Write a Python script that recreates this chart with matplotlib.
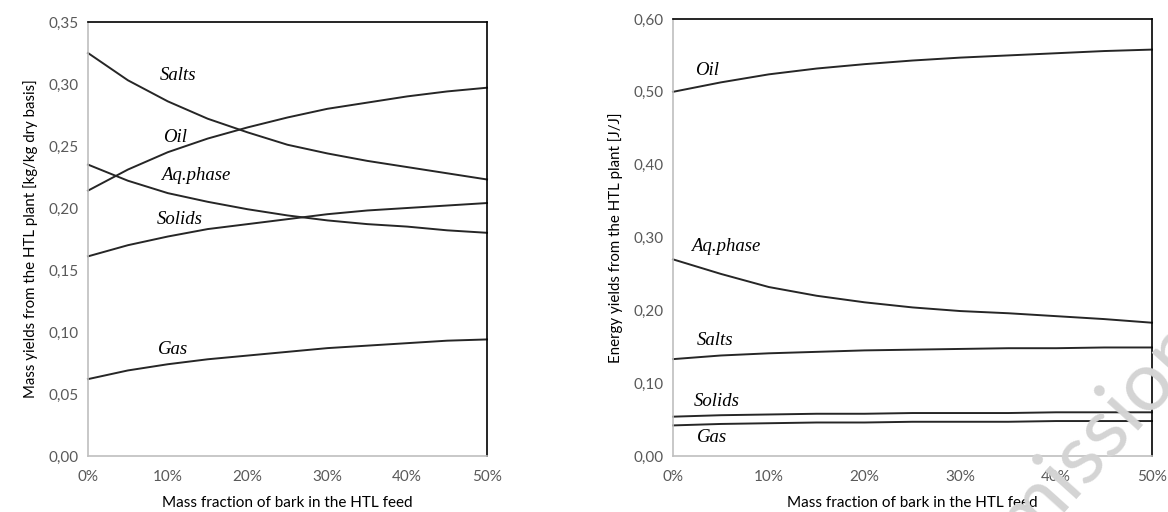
import matplotlib
matplotlib.use("Agg")
import matplotlib.pyplot as plt
from matplotlib.ticker import FuncFormatter

# Share of bark in the HTL feed (%)
bark_pct = [0, 5, 10, 15, 20, 25, 30, 35, 40, 45, 50]

# Mass yields [kg/kg dry basis]
mass_salts = [0.325, 0.303, 0.286, 0.272, 0.261, 0.251, 0.244, 0.238, 0.233, 0.228, 0.223]
mass_oil = [0.214, 0.231, 0.245, 0.256, 0.265, 0.273, 0.280, 0.285, 0.290, 0.294, 0.297]
mass_aq = [0.235, 0.222, 0.212, 0.205, 0.199, 0.194, 0.190, 0.187, 0.185, 0.182, 0.180]
mass_solids = [0.161, 0.170, 0.177, 0.183, 0.187, 0.191, 0.195, 0.198, 0.200, 0.202, 0.204]
mass_gas = [0.062, 0.069, 0.074, 0.078, 0.081, 0.084, 0.087, 0.089, 0.091, 0.093, 0.094]

# Energy yields [J/J]
energy_oil = [0.500, 0.513, 0.524, 0.532, 0.538, 0.543, 0.547, 0.550, 0.553, 0.556, 0.558]
energy_aq = [0.270, 0.250, 0.232, 0.220, 0.211, 0.204, 0.199, 0.196, 0.192, 0.188, 0.183]
energy_salts = [0.133, 0.138, 0.141, 0.143, 0.145, 0.146, 0.147, 0.148, 0.148, 0.149, 0.149]
energy_solids = [0.054, 0.056, 0.057, 0.058, 0.058, 0.059, 0.059, 0.059, 0.060, 0.060, 0.060]
energy_gas = [0.042, 0.044, 0.045, 0.046, 0.046, 0.047, 0.047, 0.047, 0.048, 0.048, 0.048]

x_ticks = [0, 10, 20, 30, 40, 50]
mass_yticks = [0.00, 0.05, 0.10, 0.15, 0.20, 0.25, 0.30, 0.35]
energy_yticks = [0.00, 0.10, 0.20, 0.30, 0.40, 0.50, 0.60]

# Series names with their label anchors (x in %, y in data units)
mass_labels = [("Salts", 9.0, 0.307), ("Oil", 9.4, 0.257), ("Aq.phase", 9.1, 0.226),
               ("Solids", 8.6, 0.191), ("Gas", 8.8, 0.086)]
energy_labels = [("Oil", 2.3, 0.529), ("Aq.phase", 1.9, 0.287), ("Salts", 2.5, 0.158),
                 ("Solids", 2.2, 0.0755), ("Gas", 2.5, 0.026)]

plt.rcParams["font.family"] = ["Lato", "DejaVu Sans"]

fig = plt.figure(figsize=(11.68, 5.12), dpi=100)
ax1 = fig.add_axes([88 / 1168, 56 / 512, 399 / 1168, 434 / 512])
ax2 = fig.add_axes([673 / 1168, 56 / 512, 479 / 1168, 437 / 512])

tick_color = "#595959"
line_color = "#262626"


def comma(v, _pos):
    return f"{v:.2f}".replace(".", ",")


def style(ax, yticks, ylabel):
    ax.set_xlim(0, 50)
    ax.set_ylim(yticks[0], yticks[-1])
    ax.set_xticks(x_ticks)
    ax.set_xticklabels([f"{t}%" for t in x_ticks])
    ax.set_yticks(yticks)
    ax.yaxis.set_major_formatter(FuncFormatter(comma))
    ax.tick_params(length=0, labelsize=11, colors=tick_color, pad=7)
    ax.tick_params(axis="x", pad=10)
    for side in ("left", "bottom"):
        ax.spines[side].set_color("#bfbfbf")
        ax.spines[side].set_linewidth(1.2)
    for side in ("top", "right"):
        ax.spines[side].set_color("black")
        ax.spines[side].set_linewidth(1.2)
    ax.set_xlabel("Mass fraction of bark in the HTL feed", fontsize=11, color="black", labelpad=9)
    ax.set_ylabel(ylabel, fontsize=10.8, color="black", labelpad=7)


for series in (mass_salts, mass_oil, mass_aq, mass_solids, mass_gas):
    ax1.plot(bark_pct, series, color=line_color, lw=1.4, clip_on=False)
for series in (energy_oil, energy_aq, energy_salts, energy_solids, energy_gas):
    ax2.plot(bark_pct, series, color=line_color, lw=1.4, clip_on=False)

for ax, labels in ((ax1, mass_labels), (ax2, energy_labels)):
    for name, lx, ly in labels:
        ax.text(lx, ly, name, fontsize=13.5, style="italic", family="Liberation Serif",
                color="black", va="center", ha="left")

style(ax1, mass_yticks, "Mass yields from the HTL plant [kg/kg dry basis]")
style(ax2, energy_yticks, "Energy yields from the HTL plant [J/J]")

# Faint diagonal stamp in the lower right corner
fig.text(1100 / 1168, 80 / 512, "mission", fontsize=60, rotation=48, color="#d4d4d4",
         ha="center", va="center", family="Lato", zorder=10)

fig.savefig("out.png", dpi=100)
